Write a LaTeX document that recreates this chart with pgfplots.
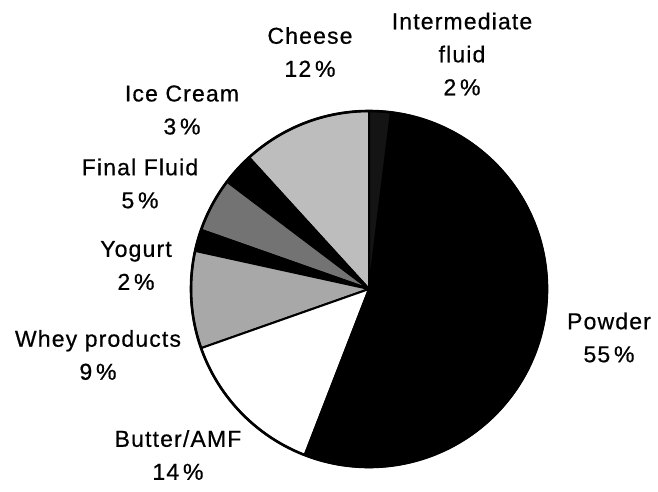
\documentclass[border=0pt]{standalone}
\usepackage{pgfplots}
\pgfplotsset{compat=1.18}
\usepackage{fontspec}
\setmainfont{Liberation Sans}
\newfontfamily\labfont{Liberation Sans}[FakeBold=0.6, LetterSpace=5]
\definecolor{cCheese}{gray}{0.74}
\definecolor{cWhey}{gray}{0.66}
\definecolor{cFinal}{gray}{0.45}
\definecolor{cInter}{gray}{0.08}
\begin{document}
\begin{tikzpicture}
\begin{axis}[
  x=0.5pt, y=0.5pt,
  xmin=0, xmax=658, ymin=0, ymax=483,
  hide axis, scale only axis, clip=false,
]
\path (axis cs:0,0) rectangle (axis cs:658,483);
\gdef\cum{0}
\foreach \v/\c in {12/cCheese, 3/black, 5/cFinal, 2/black, 9/cWhey, 14/white, 55/black, 2/cInter}{
  \pgfmathsetmacro\a{90+\cum/102*360}
  \pgfmathsetmacro\newcum{\cum+\v}
  \global\let\cum\newcum
  \pgfmathsetmacro\b{90+\cum/102*360}
  \edef\tmp{\noexpand\filldraw[fill=\c, draw=black, line width=1pt, line join=round] (axis cs:369,194) -- ++(\a:89pt) arc[start angle=\a, end angle=\b, radius=89pt] -- cycle;}
  \tmp
}
\draw[line width=1.3pt] (axis cs:369,194) circle[radius=89pt];
\tikzset{lab/.style={align=center, font=\labfont\fontsize{11.5}{16.5}\selectfont}}
\node[lab] at (axis cs:310,431) {Cheese\\12\,\%};
\node[lab] at (axis cs:462,429) {Intermediate\\fluid\\2\,\%};
\node[lab] at (axis cs:182,373) {Ice Cream\\3\,\%};
\node[lab] at (axis cs:140,299.5) {Final Fluid\\5\,\%};
\node[lab] at (axis cs:136,217.5) {Yogurt\\2\,\%};
\node[lab] at (axis cs:98,128) {Whey products\\9\,\%};
\node[lab] at (axis cs:178,28) {Butter/AMF\\14\,\%};
\node[lab] at (axis cs:609,145.5) {Powder\\55\,\%};
\end{axis}
\end{tikzpicture}
\end{document}
